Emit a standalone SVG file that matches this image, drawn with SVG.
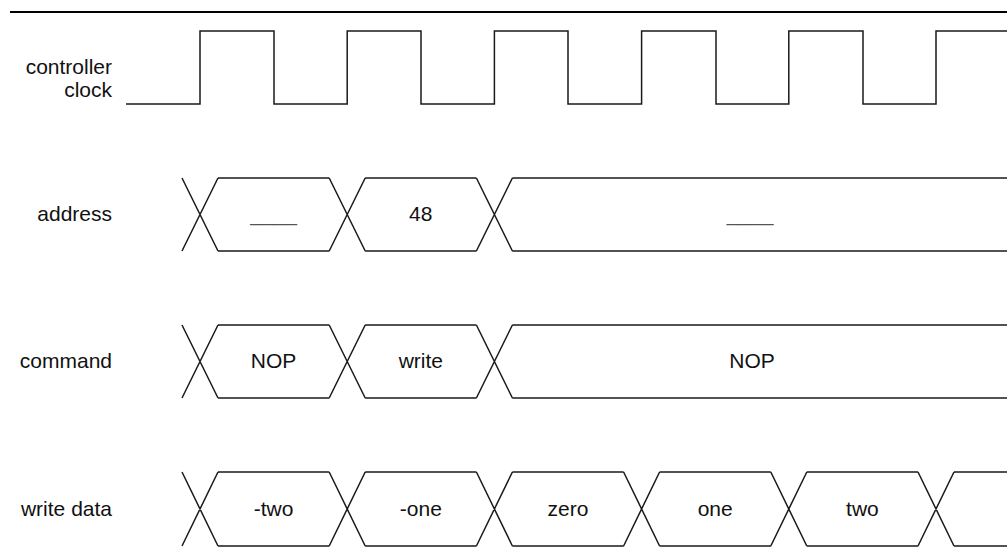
<svg xmlns="http://www.w3.org/2000/svg" width="1007" height="559" viewBox="0 0 1007 559">
<style>
.lbl{font-family:"Liberation Sans",Arial,sans-serif;font-size:21px;fill:#111;text-anchor:end}
.val{font-family:"Liberation Sans",Arial,sans-serif;font-size:21px;fill:#111;text-anchor:middle}
.dash{fill:#555}
.wave{fill:none;stroke:#1a1a1a;stroke-width:1.5;stroke-linejoin:miter}
</style>
<rect width="1007" height="559" fill="#fff"/>
<line x1="10" y1="12" x2="1007" y2="12" stroke="#000" stroke-width="2.2"/>

<g id="clock">
<text class="lbl" x="112" y="74">controller</text>
<text class="lbl" x="112" y="97">clock</text>
<path class="wave" d="M126 104 H200 V31 H274 V104 H347.2 V31 H421 V104 H494.4 V31 H568 V104 H641.6 V31 H716 V104 H788.8 V31 H863 V104 H936 V31 H1007"/>
</g>

<g id="address">
<text class="lbl" x="112" y="221">address</text>
<path class="wave" d="M182 178 L218 251 M182 251 L218 178 M329.2 178 L365.2 251 M329.2 251 L365.2 178 M476.4 178 L512.4 251 M476.4 251 L512.4 178 M218 178 H329.2 M218 251 H329.2 M365.2 178 H476.4 M365.2 251 H476.4 M512.4 178 H1007 M512.4 251 H1007"/>
<text class="val dash" x="273.6" y="221">____</text>
<text class="val" x="420.8" y="221">48</text>
<text class="val dash" x="750" y="221">____</text>
</g>

<g id="command">
<text class="lbl" x="112" y="368">command</text>
<path class="wave" d="M182 325 L218 398 M182 398 L218 325 M329.2 325 L365.2 398 M329.2 398 L365.2 325 M476.4 325 L512.4 398 M476.4 398 L512.4 325 M218 325 H329.2 M218 398 H329.2 M365.2 325 H476.4 M365.2 398 H476.4 M512.4 325 H1007 M512.4 398 H1007"/>
<text class="val" x="273.6" y="368">NOP</text>
<text class="val" x="420.8" y="368">write</text>
<text class="val" x="752" y="368">NOP</text>
</g>

<g id="write-data">
<text class="lbl" x="112" y="516">write data</text>
<path class="wave" d="M182 472 L218 546 M182 546 L218 472 M329.2 472 L365.2 546 M329.2 546 L365.2 472 M476.4 472 L512.4 546 M476.4 546 L512.4 472 M623.6 472 L659.6 546 M623.6 546 L659.6 472 M770.8 472 L806.8 546 M770.8 546 L806.8 472 M918 472 L954 546 M918 546 L954 472 M218 472 H329.2 M218 546 H329.2 M365.2 472 H476.4 M365.2 546 H476.4 M512.4 472 H623.6 M512.4 546 H623.6 M659.6 472 H770.8 M659.6 546 H770.8 M806.8 472 H918 M806.8 546 H918 M954 472 H1007 M954 546 H1007"/>
<text class="val" x="273.6" y="516">-two</text>
<text class="val" x="420.8" y="516">-one</text>
<text class="val" x="568" y="516">zero</text>
<text class="val" x="715.2" y="516">one</text>
<text class="val" x="862.4" y="516">two</text>
</g>
</svg>
